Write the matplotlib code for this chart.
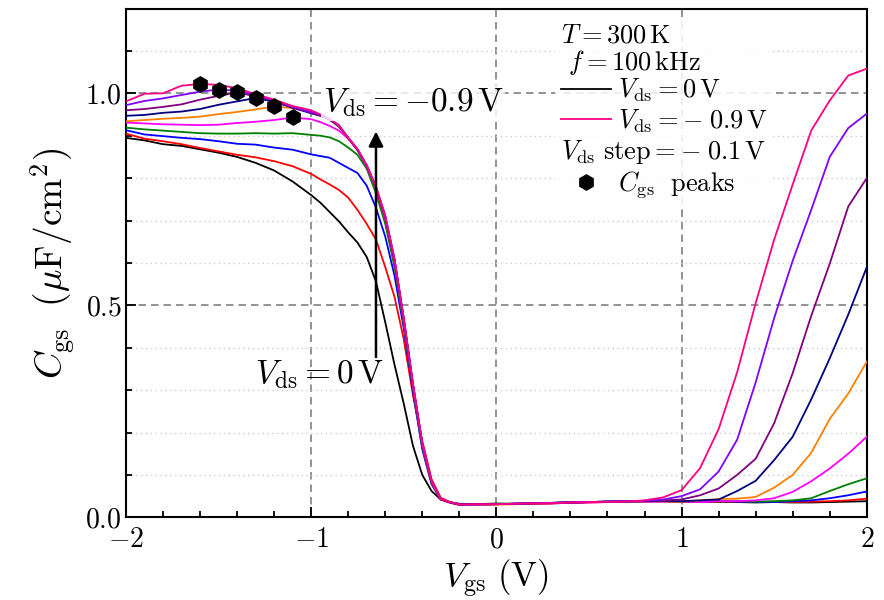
import matplotlib
matplotlib.use('Agg')
import matplotlib.pyplot as plt
from matplotlib.lines import Line2D
from matplotlib.ticker import MultipleLocator

plt.rcParams['mathtext.fontset'] = 'cm'
plt.rcParams['font.family'] = ['serif']
plt.rcParams['font.serif'] = ['DejaVu Serif']

# gate voltage grid (V)
vgs = [-2.0, -1.9, -1.8, -1.7, -1.6, -1.5, -1.4, -1.3, -1.2, -1.1, -1.0,
       -0.95, -0.9, -0.85, -0.8, -0.75, -0.7, -0.65, -0.6, -0.55, -0.5,
       -0.45, -0.4, -0.35, -0.3, -0.25,
       -0.2, -0.1, 0.0, 0.1, 0.2, 0.3, 0.4, 0.5, 0.6, 0.7, 0.8, 0.9,
       1.0, 1.1, 1.2, 1.3, 1.4, 1.5, 1.6, 1.7, 1.8, 1.9, 2.0]

# Cgs (uF/cm^2) for Vds = 0 ... -0.9 V
cgs_00 = [0.895, 0.889, 0.880, 0.876, 0.868, 0.860, 0.850, 0.836, 0.818, 0.792, 0.760,
          0.742, 0.720, 0.698, 0.672, 0.648, 0.614, 0.556, 0.460, 0.360, 0.268,
          0.168, 0.100, 0.062, 0.042, 0.035,
          0.032, 0.031, 0.031, 0.032, 0.032, 0.033, 0.035, 0.036, 0.037, 0.037, 0.038, 0.038,
          0.036, 0.037, 0.036, 0.036, 0.035, 0.036, 0.035, 0.035, 0.036, 0.037, 0.038]
cgs_01 = [0.905, 0.893, 0.887, 0.880, 0.871, 0.863, 0.855, 0.849, 0.840, 0.828, 0.810,
          0.797, 0.785, 0.772, 0.754, 0.725, 0.692, 0.655, 0.590, 0.520, 0.420,
          0.287, 0.180, 0.090, 0.046, 0.036,
          0.031, 0.030, 0.031, 0.031, 0.032, 0.033, 0.034, 0.035, 0.036, 0.037, 0.037, 0.038,
          0.037, 0.037, 0.036, 0.037, 0.036, 0.037, 0.036, 0.037, 0.038, 0.040, 0.044]
cgs_02 = [0.913, 0.903, 0.899, 0.895, 0.892, 0.887, 0.881, 0.879, 0.872, 0.867, 0.856,
          0.852, 0.848, 0.836, 0.824, 0.812, 0.782, 0.730, 0.662, 0.570, 0.445,
          0.295, 0.160, 0.078, 0.042, 0.035,
          0.031, 0.030, 0.031, 0.032, 0.033, 0.034, 0.036, 0.036, 0.037, 0.038, 0.038, 0.038,
          0.038, 0.037, 0.038, 0.037, 0.036, 0.036, 0.038, 0.040, 0.045, 0.052, 0.061]
cgs_03 = [0.919, 0.915, 0.912, 0.909, 0.906, 0.905, 0.905, 0.906, 0.905, 0.906, 0.902,
          0.900, 0.896, 0.887, 0.872, 0.855, 0.822, 0.764, 0.692, 0.590, 0.455,
          0.302, 0.166, 0.080, 0.042, 0.035,
          0.031, 0.031, 0.033, 0.032, 0.032, 0.034, 0.035, 0.036, 0.037, 0.037, 0.038, 0.038,
          0.037, 0.039, 0.037, 0.038, 0.037, 0.038, 0.040, 0.045, 0.062, 0.078, 0.092]
cgs_04 = [0.931, 0.929, 0.927, 0.926, 0.925, 0.926, 0.930, 0.933, 0.937, 0.943, 0.939,
          0.932, 0.923, 0.912, 0.893, 0.866, 0.828, 0.775, 0.705, 0.602, 0.462,
          0.308, 0.170, 0.082, 0.042, 0.035,
          0.030, 0.030, 0.031, 0.032, 0.032, 0.033, 0.034, 0.035, 0.036, 0.037, 0.037, 0.037,
          0.037, 0.036, 0.038, 0.038, 0.040, 0.045, 0.060, 0.085, 0.115, 0.150, 0.190]
cgs_05 = [0.934, 0.937, 0.940, 0.942, 0.945, 0.951, 0.956, 0.962, 0.969, 0.965, 0.955,
          0.947, 0.937, 0.921, 0.894, 0.866, 0.828, 0.776, 0.706, 0.603, 0.463,
          0.309, 0.171, 0.083, 0.042, 0.034,
          0.029, 0.029, 0.030, 0.031, 0.032, 0.034, 0.035, 0.036, 0.036, 0.037, 0.038, 0.038,
          0.037, 0.040, 0.043, 0.044, 0.048, 0.070, 0.100, 0.152, 0.232, 0.292, 0.367]
cgs_06 = [0.947, 0.949, 0.954, 0.957, 0.963, 0.973, 0.981, 0.989, 0.980, 0.966, 0.953,
          0.947, 0.938, 0.922, 0.895, 0.867, 0.829, 0.777, 0.708, 0.605, 0.465,
          0.311, 0.172, 0.083, 0.043, 0.035,
          0.030, 0.031, 0.031, 0.032, 0.033, 0.034, 0.035, 0.036, 0.036, 0.037, 0.038, 0.039,
          0.038, 0.040, 0.042, 0.062, 0.086, 0.135, 0.190, 0.278, 0.375, 0.478, 0.590]
cgs_07 = [0.960, 0.963, 0.968, 0.974, 0.985, 0.994, 1.002, 0.993, 0.982, 0.967, 0.954,
          0.948, 0.939, 0.923, 0.895, 0.867, 0.829, 0.778, 0.709, 0.607, 0.467,
          0.312, 0.173, 0.084, 0.043, 0.035,
          0.030, 0.031, 0.031, 0.032, 0.033, 0.034, 0.035, 0.036, 0.037, 0.038, 0.039, 0.040,
          0.042, 0.052, 0.068, 0.100, 0.138, 0.222, 0.340, 0.475, 0.598, 0.733, 0.800]
cgs_08 = [0.972, 0.982, 0.988, 0.996, 1.004, 1.009, 1.006, 0.996, 0.983, 0.968, 0.956,
          0.949, 0.939, 0.924, 0.895, 0.868, 0.830, 0.779, 0.710, 0.608, 0.468,
          0.313, 0.174, 0.084, 0.043, 0.035,
          0.030, 0.030, 0.031, 0.032, 0.033, 0.034, 0.035, 0.036, 0.037, 0.038, 0.039, 0.042,
          0.050, 0.066, 0.108, 0.183, 0.318, 0.470, 0.605, 0.725, 0.850, 0.918, 0.952]
cgs_09 = [0.981, 0.999, 1.000, 1.018, 1.022, 1.020, 1.012, 0.998, 0.985, 0.970, 0.960,
          0.950, 0.940, 0.925, 0.895, 0.869, 0.831, 0.780, 0.712, 0.610, 0.470,
          0.315, 0.175, 0.085, 0.043, 0.036,
          0.030, 0.031, 0.031, 0.032, 0.033, 0.033, 0.035, 0.036, 0.036, 0.037, 0.040, 0.047,
          0.064, 0.116, 0.208, 0.342, 0.505, 0.655, 0.785, 0.912, 0.983, 1.042, 1.058]

curves = [cgs_00, cgs_01, cgs_02, cgs_03, cgs_04, cgs_05, cgs_06, cgs_07, cgs_08, cgs_09]
colors = ['#000000', '#ff0000', '#0000ff', '#008000', '#ff00ff',
          '#ff8000', '#000080', '#800080', '#8000ff', '#ff0080']

# Cgs peaks (Vds = -0.9 ... -0.4 V)
peak_vgs = [-1.6, -1.5, -1.4, -1.3, -1.2, -1.1]
peak_cgs = [1.022, 1.009, 1.003, 0.990, 0.970, 0.945]

xticks = [-2, -1, 0, 1, 2]
xtick_labels = [r'$-2$', r'$-1$', r'$0$', r'$1$', r'$2$']
yticks = [0.0, 0.5, 1.0]
ytick_labels = [r'$0.0$', r'$0.5$', r'$1.0$']

fig = plt.figure(figsize=(8.84, 6), dpi=100)
ax = fig.add_axes([0.1425, 0.1378, 0.838, 0.848])

lines = []
for c, col in zip(curves, colors):
    ln, = ax.plot(vgs, c, color=col, lw=1.3, zorder=3)
    lines.append(ln)
pk, = ax.plot(peak_vgs, peak_cgs, 'h', color='k', ms=11, ls='none', zorder=5)

ax.set_xlim(-2, 2)
ax.set_ylim(0, 1.2)
ax.set_xticks(xticks)
ax.set_xticklabels(xtick_labels)
ax.set_yticks(yticks)
ax.set_yticklabels(ytick_labels)
ax.xaxis.set_minor_locator(MultipleLocator(0.2))
ax.yaxis.set_minor_locator(MultipleLocator(0.1))
ax.tick_params(which='both', direction='in', width=1.3, labelsize=20)
ax.tick_params(axis='x', pad=6.5)
ax.tick_params(axis='y', pad=3)
ax.tick_params(which='major', length=7)
ax.tick_params(which='minor', length=4.5)
for s in ax.spines.values():
    s.set_linewidth(1.5)

ax.grid(True, which='major', color='#808080', lw=1.2, ls=(0, (4.5, 3)), zorder=1)
ax.grid(True, which='minor', axis='y', color='#cccccc', lw=1.0, ls=(0, (1, 2.5)), zorder=1)
ax.set_axisbelow(True)

ax.set_xlabel(r'$V_{\mathrm{gs}}\ (\mathrm{V})$', fontsize=25, labelpad=3)
ax.set_ylabel(r'$C_{\mathrm{gs}}\ \;(\mu\mathrm{F/cm^2})$', fontsize=27, labelpad=6)

ax.annotate('', xy=(-0.65, 0.91), xytext=(-0.65, 0.378),
            arrowprops=dict(arrowstyle='-|>', color='k', lw=1.8, mutation_scale=22,
                            shrinkA=0, shrinkB=0), zorder=6)
ax.text(-0.957, 0.336, r'$V_{\mathrm{ds}} = 0\,\mathrm{V}$', fontsize=24,
        ha='center', va='center', zorder=6)
ax.text(-0.449, 0.977, r'$V_{\mathrm{ds}} = -0.9\,\mathrm{V}$', fontsize=24,
        ha='center', va='center', zorder=6,
        bbox=dict(facecolor='white', edgecolor='none', alpha=0.8, pad=1))

blank = Line2D([], [], ls='none')
leg = ax.legend([lines[0], lines[-1], blank, pk],
                [r'$V_{\mathrm{ds}} = 0\,\mathrm{V}$',
                 r'$V_{\mathrm{ds}} = -\;0.9\,\mathrm{V}$',
                 r'$V_{\mathrm{ds}}\ \mathrm{step} = -\;0.1\,\mathrm{V}$',
                 r'$C_{\mathrm{gs}}\ \ \mathrm{peaks}$'],
                title=r'$T = 300\,\mathrm{K}$' + '\n' + r'$\,\,f = 100\,\mathrm{kHz}$',
                loc='upper left', bbox_to_anchor=(0.562, 1.008),
                fontsize=19, title_fontsize=19, frameon=True, framealpha=0.85,
                edgecolor='none', fancybox=False, handlelength=1.9,
                handletextpad=0.25, borderpad=0.2, labelspacing=0.12)
leg.get_title().set_linespacing(1.0)
leg._legend_box.align = 'left'
leg._legend_box.sep = 0
# the step entry has no handle, its text starts at the left edge
row = leg._legend_handle_box.get_children()[0].get_children()[2]
row._children = [row._children[1]]

fig.savefig('out.png', dpi=100)
